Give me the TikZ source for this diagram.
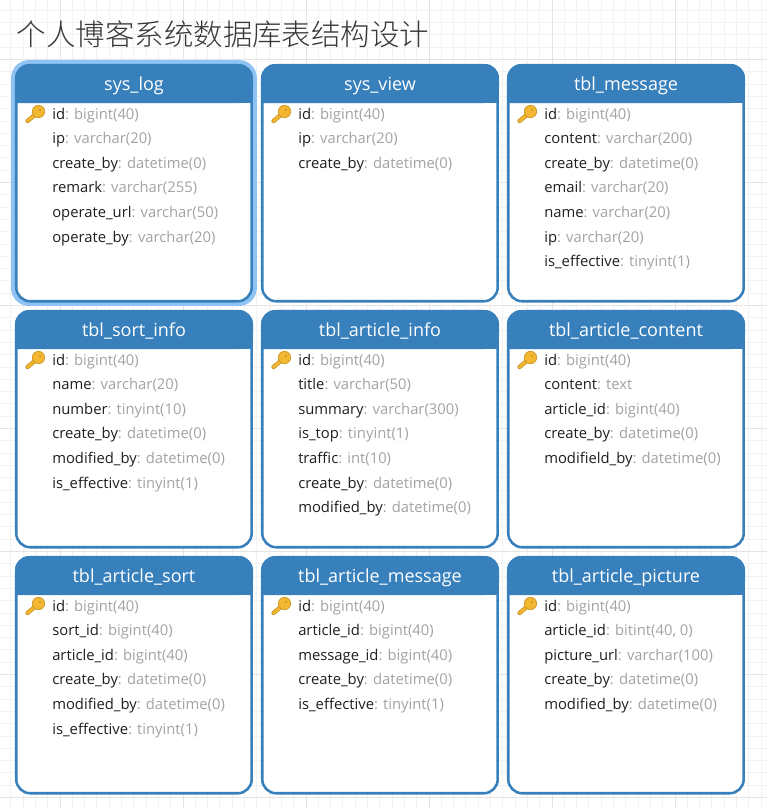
\documentclass[tikz,border=0pt]{standalone}
\usepackage{fontspec}
\setmainfont{Open Sans}
\newfontfamily\cjkfont{Noto Sans CJK SC}[UprightFont=* Light]
\definecolor{hdrblue}{HTML}{3780BC}
\definecolor{glowblue}{HTML}{8FC3F5}
\definecolor{gridminor}{HTML}{F2F2F2}
\definecolor{gridmajor}{HTML}{E4E4E4}
\definecolor{typegray}{HTML}{A3A3A3}
\definecolor{keygold}{HTML}{F3B731}
\definecolor{keyedge}{HTML}{C9931F}
\tikzset{
  tablebox/.style={draw=hdrblue,fill=white,line width=1.9pt,rounded corners=10.5pt,minimum width=176.6pt,minimum height=177pt,inner sep=0pt,outer sep=0pt,anchor=north west},
  titletext/.style={text=white,font=\fontsize{13.5}{16}\selectfont,anchor=base,inner sep=0pt},
  fieldtext/.style={anchor=base west,inner sep=0pt,font=\fontsize{11.1}{13}\selectfont,text=black!88},
  maintitle/.style={anchor=base west,inner sep=0pt,text=black!78,font=\fontsize{22.1}{26}\selectfont\cjkfont}
}
\newcommand{\keyicon}[2]{%
  \draw[keyedge,line width=3.2pt,line cap=round] ({#1+12.5},{#2+57}) -- ({#1+21},{#2+50});
  \draw[keygold,line width=2pt,line cap=round] ({#1+12.5},{#2+57}) -- ({#1+21},{#2+50});
  \fill[keygold,draw=keyedge,line width=0.5pt] ({#1+23.5},{#2+47.5}) circle (6.2);
  \fill[keyedge] ({#1+25},{#2+46}) circle (1.2);
}
\newcommand{\dbtable}[5]{%
  \node[tablebox] (#1) at ({#2+1.25},{#3+1.25}) {};
  \fill[hdrblue,rounded corners=10.5pt] ({#2},{#3+39}) -- ({#2},{#3}) -- ({#2+238},{#3}) -- ({#2+238},{#3+39}) [sharp corners] -- cycle;
  \fill[hdrblue] ({#2},{#3+30}) rectangle ({#2+238},{#3+39});
  \node[titletext] (#1title) at ({#2+119},{#3+26}) {#4};
  \keyicon{#2}{#3}
  \foreach \fld/\typ [count=\rowi] in {#5} {
    \node[fieldtext] (#1row\rowi) at ({#2+37},{#3+55+(\rowi-1)*24.6}) {\fld\textcolor{typegray}{: \typ}};
  }
}
\begin{document}
\begin{tikzpicture}[x=0.75pt,y=-0.75pt]
\useasboundingbox (0,0) rectangle (767,808);
\fill[white] (0,0) rectangle (767,808);
\begin{scope}
\clip (0,0) rectangle (767,808);
\foreach \k in {-5,...,65} {
  \draw[gridminor,line width=0.75pt] ({60+\k*12.3},0) -- ({60+\k*12.3},808);
  \draw[gridminor,line width=0.75pt] (0,{59.5+\k*12.3}) -- (767,{59.5+\k*12.3});
}
\foreach \k in {0,...,5} {
  \draw[gridmajor,line width=0.75pt] ({60+\k*123},0) -- ({60+\k*123},808);
}
\foreach \k in {0,...,6} {
  \draw[gridmajor,line width=0.75pt] (0,{59.5+\k*123}) -- (767,{59.5+\k*123});
}
\end{scope}
\node[maintitle] (heading) at (16.5,45) {个人博客系统数据库表结构设计};
\draw[glowblue,line width=3.4pt,rounded corners=12pt] (13.3,62.3) rectangle (254.7,303.7);
\dbtable{syslog}{15}{64}{sys\_log}{id/bigint(40),ip/varchar(20),create\_by/datetime(0),remark/varchar(255),operate\_url/varchar(50),operate\_by/varchar(20)}
\dbtable{sysview}{261}{64}{sys\_view}{id/bigint(40),ip/varchar(20),create\_by/datetime(0)}
\dbtable{message}{507}{64}{tbl\_message}{id/bigint(40),content/varchar(200),create\_by/datetime(0),email/varchar(20),name/varchar(20),ip/varchar(20),is\_effective/tinyint(1)}
\dbtable{sortinfo}{15}{310}{tbl\_sort\_info}{id/bigint(40),name/varchar(20),number/tinyint(10),create\_by/datetime(0),modified\_by/datetime(0),is\_effective/tinyint(1)}
\dbtable{articleinfo}{261}{310}{tbl\_article\_info}{id/bigint(40),title/varchar(50),summary/varchar(300),is\_top/tinyint(1),traffic/int(10),create\_by/datetime(0),modified\_by/datetime(0)}
\dbtable{articlecontent}{507}{310}{tbl\_article\_content}{id/bigint(40),content/text,article\_id/bigint(40),create\_by/datetime(0),modifield\_by/datetime(0)}
\dbtable{articlesort}{15}{556}{tbl\_article\_sort}{id/bigint(40),sort\_id/bigint(40),article\_id/bigint(40),create\_by/datetime(0),modified\_by/datetime(0),is\_effective/tinyint(1)}
\dbtable{articlemessage}{261}{556}{tbl\_article\_message}{id/bigint(40),article\_id/bigint(40),message\_id/bigint(40),create\_by/datetime(0),is\_effective/tinyint(1)}
\dbtable{articlepicture}{507}{556}{tbl\_article\_picture}{id/bigint(40),article\_id/{bitint(40, 0)},picture\_url/varchar(100),create\_by/datetime(0),modified\_by/datetime(0)}
\end{tikzpicture}
\end{document}
